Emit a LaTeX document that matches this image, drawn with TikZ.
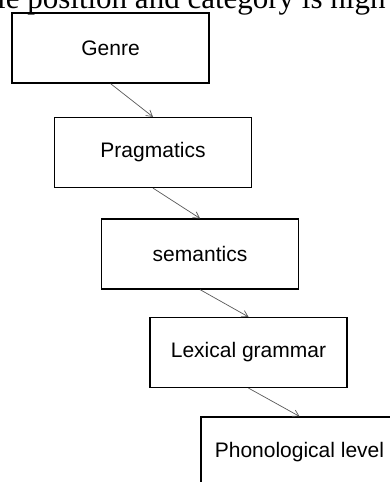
\documentclass[tikz,border=0pt]{standalone}
\usepackage{fontspec}
\setmainfont{Liberation Sans}
\newfontfamily\serifcut{Liberation Serif}
\usetikzlibrary{arrows.meta}
\begin{document}
\begin{tikzpicture}[x=1pt,y=-1pt,
  levelbox/.style={draw=black,line width=1.2pt,minimum width=197pt,minimum height=70pt,inner sep=0pt,
    font=\fontsize{21}{25}\selectfont},
  link/.style={draw=black!65,line width=0.7pt,-{Straight Barb[length=6pt,width=7pt,line width=0.7pt]}}]
\useasboundingbox (0,0) rectangle (390,482);
\clip (0,0) rectangle (390,482);
\fill[white] (0,0) rectangle (390,482);
\node[anchor=base west,inner sep=0pt,font=\serifcut\fontsize{31}{36}\selectfont] (cut) at (-3,8) {le position and category is high};
\node[levelbox] (genre) at (110.5,48) {Genre};
\node[levelbox] (prag) at (153,152.5) {Pragmatics};
\node[levelbox] (sem) at (200,254) {semantics};
\node[levelbox] (lex) at (248.5,352.5) {Lexical grammar};
\node[levelbox] (phon) at (299.5,452) {Phonological level};
\draw[link] (genre.south) -- (prag.north);
\draw[link] (prag.south) -- (sem.north);
\draw[link] (sem.south) -- (lex.north);
\draw[link] (lex.south) -- (phon.north);
\end{tikzpicture}
\end{document}
